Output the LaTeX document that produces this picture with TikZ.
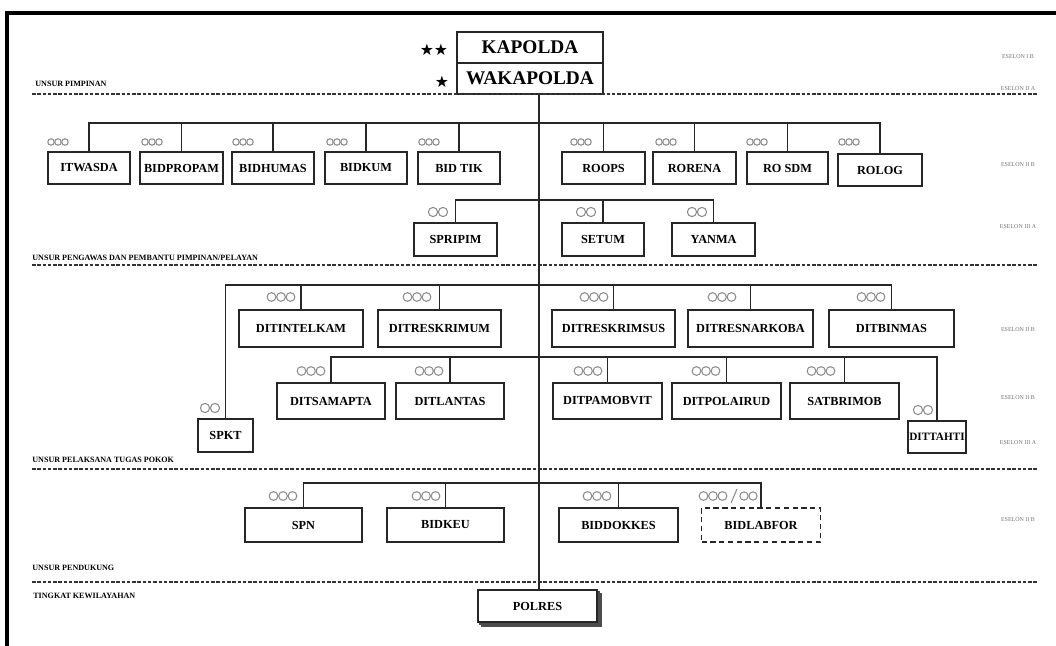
\documentclass[tikz,border=0pt]{standalone}
\usepackage{fontspec}
\setmainfont{Liberation Serif}
\newfontfamily\symfont{DejaVu Sans}
\usetikzlibrary{calc,shadows}

\begin{document}
\begin{tikzpicture}[x=0.02cm,y=-0.02cm,
    unit/.style={draw=black!85, line width=1.1pt, fill=white, inner sep=0pt,
      font=\bfseries\fontsize{7}{8}\selectfont},
    top/.style={unit, minimum width=146*0.02cm, minimum height=31*0.02cm,
      font=\bfseries\fontsize{11}{12}\selectfont},
    link/.style={draw=black!85, line width=1pt},
    sep/.style={draw=black!80, line width=1.1pt, dash pattern=on 2pt off 1pt},
    pip/.style={draw=black!45, line width=0.6pt},
    section/.style={anchor=west, inner sep=0pt, font=\bfseries\fontsize{4.6}{5}\selectfont},
    eselon/.style={inner sep=0pt, text=black!55, font=\fontsize{3.4}{4}\selectfont}]
  \useasboundingbox (0,0) rectangle (1056,646);
  % frame
  \draw[line width=2.4pt] (1056,13) -- (7,13) -- (7,646);

  \def\pips#1#2#3#4{% count, spacing, x, y
    \foreach \k in {1,...,#1}{
      \draw[pip] ({#3+(\k-(#1+1)/2)*#2},#4) circle ({#2*0.0092cm});
    }
  }

  % pimpinan
  \node[top] (kapolda) at (530,47.5) {KAPOLDA};
  \node[top] (wakapolda) at (530,78.5) {WAKAPOLDA};
  \node[inner sep=0pt, font=\symfont\fontsize{9}{10}\selectfont] (star2) at (434,50) {★★};
  \node[inner sep=0pt, font=\symfont\fontsize{9}{10}\selectfont] (star1) at (442,82) {★};

  % separators
  \foreach \y in {94,265,469,582}
    \draw[sep] (32,\y) -- (1037,\y);

  % section labels
  \node[section] (spimpinan) at (35,84) {UNSUR PIMPINAN};
  \node[section] (spengawas) at (32,258) {UNSUR PENGAWAS DAN PEMBANTU PIMPINAN/PELAYAN};
  \node[section] (spelaksana) at (32,460) {UNSUR PELAKSANA TUGAS POKOK};
  \node[section] (spendukung) at (32,568) {UNSUR PENDUKUNG};
  \node[section] (swilayah) at (33,596) {TINGKAT KEWILAYAHAN};

  % eselon column
  \foreach \y/\txt in {57/ESELON I B, 89/ESELON II A, 165/ESELON II B, 227/ESELON III A,
      330/ESELON II B, 398/ESELON II B, 443/ESELON III A, 520/ESELON II B}
    \node[eselon] (es\y) at (1018,\y) {\txt};

  % row a: pengawas / pembantu pimpinan
  \foreach \nm/\xa/\xb/\txt in {itwasda/48/130/ITWASDA, bidpropam/140/223/BIDPROPAM,
      bidhumas/232/314/BIDHUMAS, bidkum/325/407/BIDKUM, bidtik/418/500/BID TIK,
      roops/562/645/ROOPS, rorena/653/736/RORENA, rosdm/747/828/RO SDM}
    \node[unit, minimum width={(\xb-\xa)*0.02cm}, minimum height=32*0.02cm]
      (\nm) at ({(\xa+\xb)/2},168) {\txt};
  \node[unit, minimum width=84*0.02cm, minimum height=32*0.02cm] (rolog) at (880,170) {ROLOG};

  % row b: pelayan
  \foreach \nm/\xa/\xb/\txt in {spripim/414/497/SPRIPIM, setum/562/644/SETUM, yanma/672/755/YANMA}
    \node[unit, minimum width={(\xb-\xa)*0.02cm}, minimum height=33*0.02cm]
      (\nm) at ({(\xa+\xb)/2},239.5) {\txt};

  % row c and d: pelaksana tugas pokok
  \foreach \nm/\xa/\xb/\txt in {ditintelkam/239/363/DITINTELKAM, ditreskrimum/378/501/DITRESKRIMUM,
      ditreskrimsus/552/675/DITRESKRIMSUS, ditresnarkoba/688/813/DITRESNARKOBA,
      ditbinmas/829/954/DITBINMAS}
    \node[unit, minimum width={(\xb-\xa)*0.02cm}, minimum height=37*0.02cm]
      (\nm) at ({(\xa+\xb)/2},328.5) {\txt};
  \foreach \nm/\xa/\xb/\txt in {ditsamapta/277/385/DITSAMAPTA, ditlantas/396/504/DITLANTAS,
      ditpamobvit/553/662/DITPAMOBVIT, ditpolairud/672/781/DITPOLAIRUD,
      satbrimob/790/899/SATBRIMOB}
    \node[unit, minimum width={(\xb-\xa)*0.02cm}, minimum height=36*0.02cm]
      (\nm) at ({(\xa+\xb)/2},401) {\txt};
  \node[unit, minimum width=55*0.02cm, minimum height=33*0.02cm] (spkt) at (225.5,435.5) {SPKT};
  \node[unit, minimum width=58*0.02cm, minimum height=32*0.02cm,
    font=\bfseries\fontsize{6.4}{7}\selectfont] (dittahti) at (937,437) {DITTAHTI};

  % row e: pendukung
  \foreach \nm/\xa/\xb/\txt in {spn/245/362/SPN, bidkeu/387/504/BIDKEU, biddokkes/559/678/BIDDOKKES}
    \node[unit, minimum width={(\xb-\xa)*0.02cm}, minimum height=34*0.02cm]
      (\nm) at ({(\xa+\xb)/2},525) {\txt};
  \node[unit, densely dashed, minimum width=119*0.02cm, minimum height=34*0.02cm]
    (bidlabfor) at (761,525) {BIDLABFOR};

  % kewilayahan
  \node[unit, minimum width=119*0.02cm, minimum height=32*0.02cm,
    double copy shadow={shadow xshift=1.1pt, shadow yshift=-1.1pt, draw=black!70, fill=white}]
    (polres) at (537.5,606) {POLRES};

  % trunk
  \coordinate (trunk) at (539,0);
  \draw[link] (wakapolda.south -| trunk) -- (polres.north -| trunk);

  % buses
  \coordinate (busa) at (0,123);
  \coordinate (busb) at (0,200);
  \coordinate (busc) at (0,285);
  \coordinate (busd) at (0,357);
  \coordinate (buse) at (0,483);
  \draw[link] (itwasda.north) |- (rolog.north |- busa) -- (rolog.north);
  \foreach \nm in {bidpropam,bidhumas,bidkum,bidtik,roops,rorena,rosdm}
    \draw[link] (\nm.north) -- (\nm.north |- busa);
  \draw[link] (spripim.north) |- (yanma.north |- busb) -- (yanma.north);
  \draw[link] (setum.north) -- (setum.north |- busb);
  \draw[link] (spkt.north) |- (ditbinmas.north |- busc) -- (ditbinmas.north);
  \foreach \nm in {ditintelkam,ditreskrimum,ditreskrimsus,ditresnarkoba}
    \draw[link] (\nm.north) -- (\nm.north |- busc);
  \draw[link] (ditsamapta.north) |- (dittahti.north |- busd) -- (dittahti.north);
  \foreach \nm in {ditlantas,ditpamobvit,ditpolairud,satbrimob}
    \draw[link] (\nm.north) -- (\nm.north |- busd);
  \draw[link] (spn.north) |- (bidlabfor.north |- buse) -- (bidlabfor.north);
  \foreach \nm in {bidkeu,biddokkes}
    \draw[link] (\nm.north) -- (\nm.north |- buse);

  % rank marks
  \foreach \x in {58,152,243,337,429,581,666,757,849}{\pips{3}{7}{\x}{142}}
  \foreach \x in {438,586,697}{\pips{2}{10}{\x}{212}}
  \foreach \x in {281,417,594,722,871}{\pips{3}{9.5}{\x}{297}}
  \foreach \x in {311,429,588,706,821}{\pips{3}{9.5}{\x}{371}}
  \pips{2}{10}{210}{408}
  \pips{2}{10}{923}{410}
  \foreach \x in {283,426,597}{\pips{3}{9.5}{\x}{496}}
  \pips{3}{9.5}{713}{496}
  \pips{2}{9}{748.5}{496}
  \draw[pip] (731,503) -- (737,489);
\end{tikzpicture}
\end{document}
